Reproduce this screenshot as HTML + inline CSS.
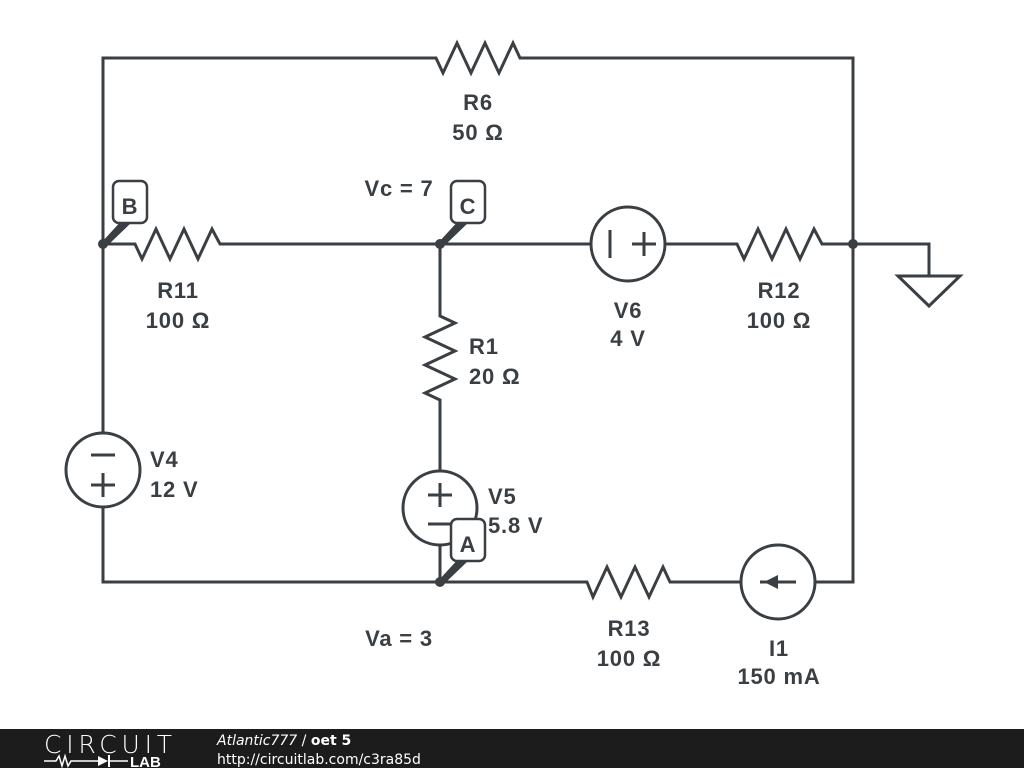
<!DOCTYPE html>
<html><head><style>
body{margin:0;width:1024px;height:768px;background:#fff;overflow:hidden;font-family:"Liberation Sans",sans-serif}
svg{position:absolute;left:0;top:0}
.t{font-family:"Liberation Sans",sans-serif;font-weight:bold;font-size:22px;letter-spacing:0.8px;fill:#3a3f44}
</style></head><body>
<svg width="1024" height="768" viewBox="0 0 1024 768">
<g stroke="#3a3f44" stroke-width="3" fill="none" stroke-linejoin="miter">
<polyline points="103,244 103,58 436,58 443,73 457,43 471,73 485,43 499,73 513,43 520,58 853,58 853,244"/>
<polyline points="103,244 135,244 142,259 156,229 170,259 184,229 198,259 212,229 220,244 440,244 591,244"/>
<polyline points="665,244 737,244 744,259 758,229 772,259 786,229 800,259 814,229 822,244 929,244 929,276"/>
<polygon points="898,276 960,276 929,306"/>
<circle cx="628" cy="244" r="37"/>
<line x1="610" y1="230" x2="610" y2="258"/>
<line x1="632" y1="244" x2="656" y2="244"/><line x1="644" y1="232" x2="644" y2="256"/>
<polyline points="440,244 440,316 455,323 425,337 455,351 425,365 455,379 425,393 440,400 440,471"/>
<circle cx="440" cy="508" r="37"/>
<line x1="428" y1="495" x2="452" y2="495"/><line x1="440" y1="483" x2="440" y2="507"/>
<line x1="428" y1="524" x2="452" y2="524"/>
<line x1="440" y1="545" x2="440" y2="582"/>
<polyline points="853,244 853,582 815,582"/>
<circle cx="778" cy="582" r="37"/>
<line x1="760" y1="582" x2="796" y2="582"/>
<polyline points="741,582 670,582 663,567 649,597 635,567 621,597 607,567 593,597 587,582 103,582 103,507"/>
<circle cx="103" cy="470" r="37"/>
<line x1="91" y1="455" x2="115" y2="455"/>
<line x1="91" y1="485" x2="115" y2="485"/><line x1="103" y1="473" x2="103" y2="497"/>
<line x1="103" y1="433" x2="103" y2="244"/>
</g>
<polygon points="764,582 778,575 778,589" fill="#3a3f44"/>
<g fill="#3a3f44">
<circle cx="103" cy="244" r="5"/><circle cx="440" cy="244" r="5"/><circle cx="440" cy="582" r="5"/><circle cx="853" cy="244" r="5"/>
<polygon points="101,243 124,218 132,222 106,247"/>
<polygon points="438,243 461,218 469,222 443,247"/>
<polygon points="438,581 461,556 469,560 443,585"/>
</g>
<g fill="#fff" stroke="#3a3f44" stroke-width="2.5">
<rect x="113" y="181" width="34" height="42" rx="6"/>
<rect x="451" y="181" width="34" height="42" rx="6"/>
<rect x="451" y="519" width="34" height="42" rx="6"/>
</g>
<text class="t" x="130" y="214" text-anchor="middle">B</text>
<text class="t" x="468" y="214" text-anchor="middle">C</text>
<text class="t" x="468" y="552" text-anchor="middle">A</text>
<text class="t" x="478" y="110" text-anchor="middle">R6</text>
<text class="t" x="478" y="140" text-anchor="middle">50 Ω</text>
<text class="t" x="399" y="196" text-anchor="middle">Vc = 7</text>
<text class="t" x="178" y="298" text-anchor="middle">R11</text>
<text class="t" x="178" y="328" text-anchor="middle">100 Ω</text>
<text class="t" x="469" y="354">R1</text>
<text class="t" x="469" y="384">20 Ω</text>
<text class="t" x="628" y="318" text-anchor="middle">V6</text>
<text class="t" x="628" y="346" text-anchor="middle">4 V</text>
<text class="t" x="779" y="298" text-anchor="middle">R12</text>
<text class="t" x="779" y="328" text-anchor="middle">100 Ω</text>
<text class="t" x="150" y="467">V4</text>
<text class="t" x="150" y="497">12 V</text>
<text class="t" x="488" y="504">V5</text>
<text class="t" x="488" y="533">5.8 V</text>
<text class="t" x="399" y="646" text-anchor="middle">Va = 3</text>
<text class="t" x="629" y="636" text-anchor="middle">R13</text>
<text class="t" x="629" y="666" text-anchor="middle">100 Ω</text>
<text class="t" x="779" y="656" text-anchor="middle">I1</text>
<text class="t" x="779" y="684" text-anchor="middle">150 mA</text>
<rect x="0" y="729" width="1024" height="39" fill="#1c1c1c"/>
<text x="44" y="753" fill="#fff" font-family="DejaVu Sans,sans-serif" font-size="25" font-weight="200" textLength="128">CIRCUIT</text>
<polyline points="44,761 56,761 59,756 62,766 65,756 68,766 71,761 98,761" stroke="#fff" stroke-width="1.5" fill="none"/>
<polygon points="98,756 108,761 98,766" fill="#fff"/><line x1="109" y1="755" x2="109" y2="767" stroke="#fff" stroke-width="2"/>
<line x1="109" y1="761" x2="128" y2="761" stroke="#fff" stroke-width="1.5"/>
<text x="130" y="767" fill="#fff" font-family="Liberation Sans,sans-serif" font-size="15" font-weight="bold">LAB</text>
<text x="217" y="745" fill="#fff" font-family="DejaVu Sans,sans-serif" font-size="14"><tspan font-style="italic">Atlantic777</tspan> / <tspan font-weight="bold">oet 5</tspan></text>
<text x="217" y="764" fill="#fff" font-family="DejaVu Sans,sans-serif" font-size="14">http://circuitlab.com/c3ra85d</text>
</svg>
</body></html>
